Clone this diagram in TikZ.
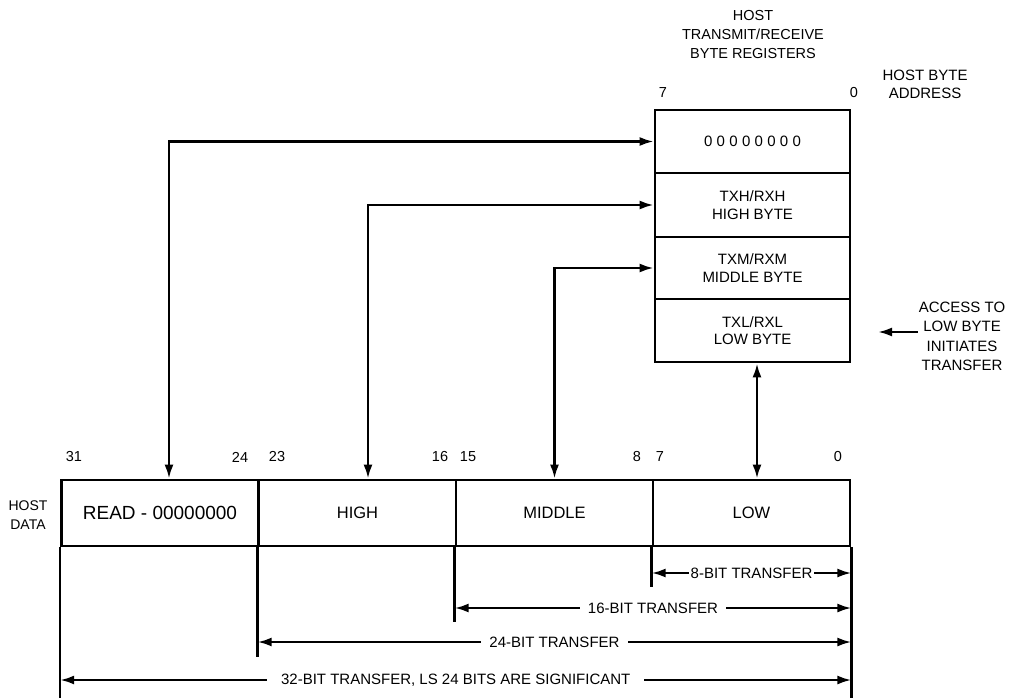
\documentclass[tikz,border=0pt]{standalone}
\usepackage{fontspec}
\setmainfont{Liberation Sans}
\usetikzlibrary{arrows.meta}
\begin{document}
\begin{tikzpicture}[x=1pt,y=-1pt,line width=2.4pt,
  lbl/.style={inner sep=0pt,align=center,font=\fontsize{15}{18}\selectfont},
  num/.style={inner sep=0pt,font=\fontsize{14.5}{16}\selectfont},
  reg/.style={draw,minimum width=195pt,inner sep=0pt,align=center,line width=2.8pt,font=\fontsize{15}{17.5}\selectfont},
  hcell/.style={draw,minimum width=197pt,minimum height=66pt,inner sep=0pt,line width=2.8pt,font=\fontsize{16.5}{18}\selectfont},
  onearr/.style={-{Latex[length=14pt,width=9pt]}},
  dblarr/.style={{Latex[length=14pt,width=9pt]}-{Latex[length=14pt,width=9pt]}},
  dimlbl/.style={fill=white,inner xsep=8pt,inner ysep=1pt,font=\fontsize{15}{18}\selectfont},
]
\useasboundingbox (0,0) rectangle (1014,698);

% register stack
\node[reg,minimum height=63pt] (r3) at (752.5,141.5) {0\kern4.3pt0\kern4.3pt0\kern4.3pt0\kern4.3pt0\kern4.3pt0\kern4.3pt0\kern4.3pt0};
\node[reg,minimum height=64pt] (r2) at (752.5,205) {TXH/RXH\\HIGH BYTE};
\node[reg,minimum height=62pt] (r1) at (752.5,268) {TXM/RXM\\MIDDLE BYTE};
\node[reg,minimum height=63pt] (r0) at (752.5,330.5) {TXL/RXL\\LOW BYTE};

\node[lbl,font=\fontsize{14.5}{19}\selectfont] (title) at (753,35) {HOST\\TRANSMIT/RECEIVE\\BYTE REGISTERS};
\node[num] (rb7) at (663,93) {7};
\node[num] (rb0) at (854,93) {0};
\node[lbl] (addr) at (925,84) {HOST BYTE\\ADDRESS};

\node[lbl,font=\fontsize{15}{19.4}\selectfont] (acc) at (962,336.5) {ACCESS TO\\LOW BYTE\\INITIATES\\TRANSFER};
\coordinate (accin) at (878,332);
\draw[onearr] (acc.west |- accin) -- (accin);

% host data
\node[hcell] (h3) at (160,513) {\fontsize{19}{22}\selectfont READ - 00000000};
\node[hcell] (h2) at (357.5,513) {HIGH};
\node[hcell] (h1) at (554.5,513) {MIDDLE};
\node[hcell] (h0) at (751.5,513) {LOW};
\node[lbl,font=\fontsize{14}{19}\selectfont] (hd) at (28,515.5) {HOST\\DATA};

\node[num] (b31) at (74,457) {31};
\node[num] (b24) at (240,457) {24};
\node[num] (b23) at (277,457) {23};
\node[num] (b16) at (440,457) {16};
\node[num] (b15) at (468,457) {15};
\node[num] (b8) at (637,457) {8};
\node[num] (b7) at (660,457) {7};
\node[num] (b0) at (838,457) {0};

% connectors
\draw[dblarr] (r3.west) -| ([xshift=9pt]h3.north);
\draw[dblarr] (r2.west) -| ([xshift=10.5pt]h2.north);
\draw[dblarr] (r1.west) -| (h1.north);
\coordinate (lx) at (757,0);
\draw[dblarr] (r0.south -| lx) -- (h0.north -| lx);

% transfer extents
\coordinate (y8) at (0,573);
\coordinate (y16) at (0,608);
\coordinate (y24) at (0,642);
\coordinate (y32) at (0,680);
\draw (h3.south west) -- (h3.south west |- 0,698);
\draw (h0.south east) -- (h0.south east |- 0,698);
\draw (h2.south west) -- (h2.south west |- 0,657);
\draw (h1.south west) -- (h1.south west |- 0,622);
\draw (h0.south west) -- (h0.south west |- 0,587);

\draw[dblarr] (h0.south west |- y8) -- node[dimlbl,inner xsep=2pt]{8-BIT TRANSFER} (h0.south east |- y8);
\draw[dblarr] (h1.south west |- y16) -- node[dimlbl]{16-BIT TRANSFER} (h0.south east |- y16);
\draw[dblarr] (h2.south west |- y24) -- node[dimlbl]{24-BIT TRANSFER} (h0.south east |- y24);
\draw[dblarr] (h3.south west |- y32) -- node[dimlbl,inner xsep=14pt]{32-BIT TRANSFER, LS 24 BITS ARE SIGNIFICANT} (h0.south east |- y32);
\end{tikzpicture}
\end{document}
